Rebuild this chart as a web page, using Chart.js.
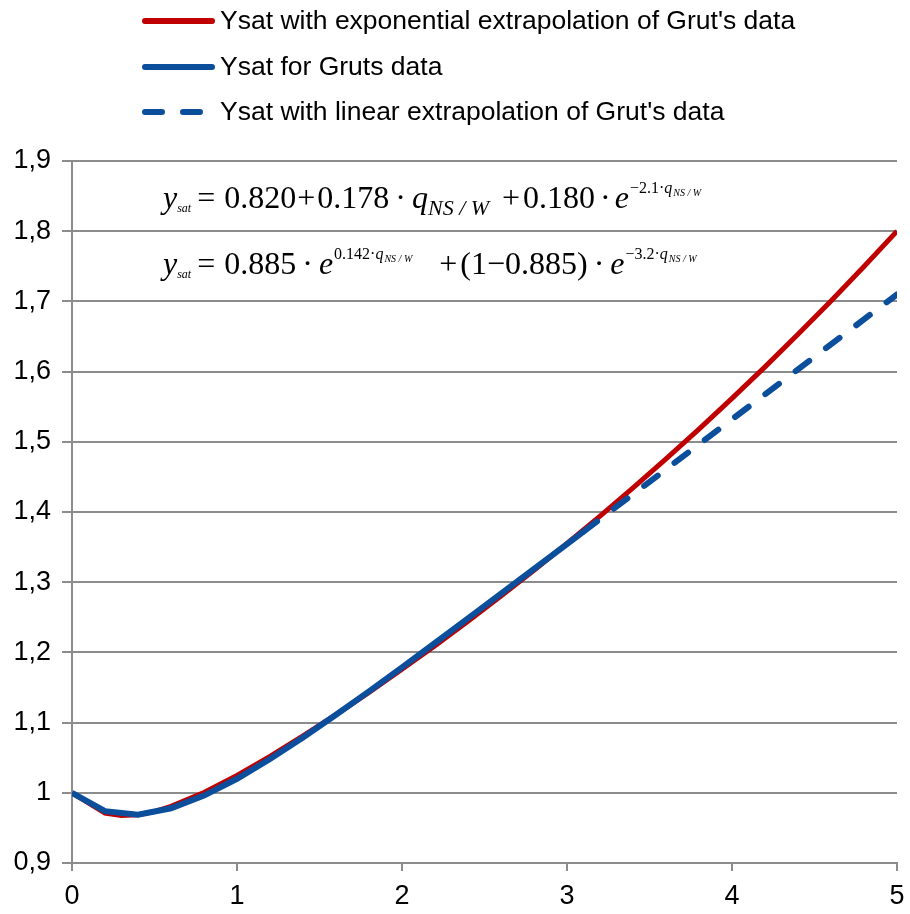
<!DOCTYPE html>
<html>
<head>
<meta charset="utf-8">
<script src="https://cdn.jsdelivr.net/npm/chart.js@4.4.1/dist/chart.umd.min.js"></script>
<style>
  html, body { margin: 0; padding: 0; background: #fff; }
  #ysatChart { display: block; }
</style>
</head>
<body>
<canvas id="ysatChart" width="910" height="914"></canvas>
<script>
// q_NS/W values and Ysat
const expQ = [0, 0.2, 0.3, 0.4, 0.5, 0.6, 0.8, 1.0, 1.2, 1.4, 1.6, 1.8, 2.0, 2.2, 2.4,
  2.6, 2.8, 3.0, 3.2, 3.4, 3.6, 3.8, 4.0, 4.2, 4.4, 4.6, 4.8, 5.0];
const expYsat = [1.0, 0.9711, 0.9676, 0.9687, 0.9733, 0.9806, 1.0004, 1.0247, 1.0519, 1.0810,
  1.1114, 1.1431, 1.1759, 1.2096, 1.2444, 1.2803, 1.3171, 1.3551, 1.3941, 1.4343, 1.4756,
  1.5181, 1.5618, 1.6068, 1.6531, 1.7007, 1.7497, 1.8001];

const grutQ = [0, 0.2, 0.4, 0.6, 0.8, 1.0, 1.2, 1.4, 1.6, 1.8, 2.0, 2.2, 2.4, 2.6, 2.8, 3.0, 3.1];
const grutYsat = [1.0, 0.9739, 0.9689, 0.9779, 0.9960, 1.0200, 1.0481, 1.0787, 1.1111, 1.1445,
  1.1787, 1.2134, 1.2484, 1.2836, 1.3189, 1.3543, 1.3721];

const linQ = [3.1, 3.5, 4.0, 4.5, 5.0];
const linYsat = [1.3721, 1.4430, 1.5320, 1.6210, 1.7100];

const seriesLabels = [
  "Ysat with exponential extrapolation of Grut's data",
  "Ysat for Gruts data",
  "Ysat with linear extrapolation of Grut's data"
];

const yTicks = [0.9, 1.0, 1.1, 1.2, 1.3, 1.4, 1.5, 1.6, 1.7, 1.8, 1.9];

const RED = "#C00000";
const BLUE = "#0B4E9C";
const GRID = "#8C8C8C";
const SANS = '"Liberation Sans", Arial, sans-serif';

function toPoints(xs, ys) {
  return xs.map((x, i) => ({ x: x, y: ys[i] }));
}

// legend drawn above the plot, one series per row
const stackedLegend = {
  id: "stackedLegend",
  afterDraw(chart) {
    const ctx = chart.ctx;
    const rows = [21, 67, 112];
    ctx.save();
    chart.data.datasets.forEach((ds, i) => {
      const y = rows[i];
      ctx.beginPath();
      ctx.strokeStyle = ds.borderColor;
      ctx.lineWidth = 6;
      ctx.lineCap = "round";
      ctx.setLineDash(ds.borderDash || []);
      ctx.moveTo(145, y);
      ctx.lineTo(212, y);
      ctx.stroke();
      ctx.setLineDash([]);
      ctx.fillStyle = "#000";
      ctx.font = "26.5px " + SANS;
      ctx.textBaseline = "middle";
      ctx.textAlign = "left";
      ctx.fillText(ds.label, 220, y + 1);
    });
    ctx.restore();
  }
};

// each run: text, italic flag, size, baseline shift, gap before it
function drawRuns(ctx, x, y, runs) {
  runs.forEach((r) => {
    x += r.pre || 0;
    ctx.font = (r.it ? "italic " : "") + r.size + 'px "Liberation Serif", "Times New Roman", serif';
    ctx.fillText(r.t, x, y + (r.dy || 0));
    x += ctx.measureText(r.t).width;
  });
}

function qPower(lead) {
  return [
    { t: lead, size: 16, dy: -15, pre: 1 },
    { t: "q", it: true, size: 16, dy: -15 },
    { t: "NS / W", it: true, size: 10, dy: -12, pre: 1 }
  ];
}

// the two fitted expressions written inside the plot
const formulas = {
  id: "formulas",
  afterDatasetsDraw(chart) {
    const ctx = chart.ctx;
    const xs = chart.scales.x;
    const ys = chart.scales.y;
    const x0 = xs.getPixelForValue(0) + 91;
    const ysat = [
      { t: "y", it: true, size: 32 },
      { t: "sat", it: true, size: 12, dy: 4 },
      { t: "=", size: 32, pre: 6 }
    ];
    const line1 = ysat.concat([
      { t: "0.820", size: 32, pre: 9 },
      { t: "+", size: 32, pre: 1 },
      { t: "0.178", size: 32, pre: 2 },
      { t: "·", size: 32, pre: 6 },
      { t: "q", it: true, size: 32, pre: 6 },
      { t: "NS / W", it: true, size: 22, dy: 7 },
      { t: "+", size: 32, pre: 13 },
      { t: "0.180", size: 32, pre: 3 },
      { t: "·", size: 32, pre: 5 },
      { t: "e", it: true, size: 32, pre: 4 }
    ], qPower("−2.1·"));
    const line2 = ysat.concat([
      { t: "0.885", size: 32, pre: 9 },
      { t: "·", size: 32, pre: 6 },
      { t: "e", it: true, size: 32, pre: 6 }
    ], qPower("0.142·"), [
      { t: "+", size: 32, pre: 27 },
      { t: "(1−0.885)", size: 32, pre: 3 },
      { t: "·", size: 32, pre: 6 },
      { t: "e", it: true, size: 32, pre: 6 }
    ], qPower("−3.2·"));
    ctx.save();
    ctx.fillStyle = "#000";
    ctx.textBaseline = "alphabetic";
    ctx.textAlign = "left";
    drawRuns(ctx, x0, ys.getPixelForValue(1.9) + 47, line1);
    drawRuns(ctx, x0, ys.getPixelForValue(1.8) + 43, line2);
    ctx.restore();
  }
};

new Chart(document.getElementById("ysatChart"), {
  type: "line",
  data: {
    datasets: [
      {
        label: seriesLabels[0],
        data: toPoints(expQ, expYsat),
        borderColor: RED,
        borderWidth: 5,
        order: 3
      },
      {
        label: seriesLabels[1],
        data: toPoints(grutQ, grutYsat),
        borderColor: BLUE,
        borderWidth: 6,
        order: 1
      },
      {
        label: seriesLabels[2],
        data: toPoints(linQ, linYsat),
        borderColor: BLUE,
        borderWidth: 6,
        borderDash: [17, 21],
        borderCapStyle: "round",
        order: 2
      }
    ]
  },
  options: {
    responsive: false,
    animation: false,
    layout: { padding: { top: 161, right: 13, left: 0, bottom: 0 } },
    elements: {
      point: { radius: 0 },
      line: { tension: 0, fill: false }
    },
    plugins: {
      legend: { display: false },
      tooltip: { enabled: false }
    },
    scales: {
      x: {
        type: "linear",
        min: 0,
        max: 5,
        ticks: {
          stepSize: 1,
          padding: 9,
          color: "#000",
          font: { family: SANS, size: 27 }
        },
        grid: {
          drawOnChartArea: false,
          drawTicks: true,
          tickLength: 8,
          color: GRID,
          lineWidth: 2
        },
        border: { display: true, color: GRID, width: 2 },
        afterFit(scale) {
          scale.height = 51;
          scale.paddingLeft = 0;
          scale.paddingRight = 0;
        }
      },
      y: {
        type: "linear",
        min: yTicks[0],
        max: yTicks[yTicks.length - 1],
        afterBuildTicks(scale) {
          scale.ticks = yTicks.map((v) => ({ value: v }));
        },
        ticks: {
          padding: 11,
          color: "#000",
          font: { family: SANS, size: 27 },
          callback: (v) => String(Math.round(v * 10) / 10).replace(".", ",")
        },
        grid: {
          tickLength: 10,
          color: GRID,
          lineWidth: 2
        },
        border: { display: true, color: GRID, width: 2 },
        afterFit(scale) { scale.width = 72; }
      }
    }
  },
  plugins: [stackedLegend, formulas]
});
</script>
</body>
</html>
